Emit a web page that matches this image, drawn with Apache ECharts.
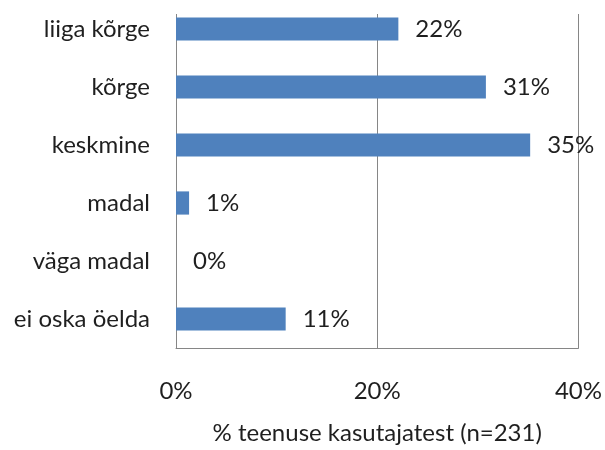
<!DOCTYPE html>
<html>
<head>
<meta charset="utf-8">
<script src="https://cdn.jsdelivr.net/npm/echarts@6/dist/echarts.min.js"></script>
<style>html,body{margin:0;padding:0;background:#fff;}#c{width:605px;height:450px;}</style>
</head>
<body>
<div id="c"></div>
<script>
var categories = ["liiga kõrge", "kõrge", "keskmine", "madal", "väga madal", "ei oska öelda"];
var values = [22.1, 30.8, 35.2, 1.3, 0, 10.9];
var valueLabels = ["22%", "31%", "35%", "1%", "0%", "11%"];
var xTicks = [0, 20, 40];
var axisTitle = "% teenuse kasutajatest (n=231)";

var FONT = "Lato";
var TXT = '#1f1f1f';
var chart = echarts.init(document.getElementById('c'), null, {renderer: 'canvas'});
chart.setOption({
  animation: false,
  backgroundColor: '#ffffff',
  grid: {left: 176, right: 23, top: -4, bottom: 94, containLabel: false},
  xAxis: {
    type: 'value', min: xTicks[0], max: xTicks[xTicks.length - 1], interval: xTicks[1] - xTicks[0],
    axisLine: {show: true, lineStyle: {color: '#868686', width: 1}},
    axisTick: {show: false},
    splitLine: {show: true, lineStyle: {color: '#868686', width: 1}},
    axisLabel: {formatter: '{value}%', color: TXT, fontFamily: FONT, fontSize: 24, margin: 31},
    name: axisTitle, nameLocation: 'middle', nameGap: 73,
    nameTextStyle: {color: TXT, fontFamily: FONT, fontSize: 24}
  },
  yAxis: {
    type: 'category', data: categories, inverse: true,
    axisLine: {show: true, lineStyle: {color: '#868686', width: 1}},
    axisTick: {show: false},
    axisLabel: {color: TXT, fontFamily: FONT, fontSize: 24, margin: 26}
  },
  series: [{
    type: 'bar', data: values, barCategoryGap: '60%',
    itemStyle: {color: '#4F81BD'},
    label: {
      show: true, position: 'right', distance: 17,
      formatter: function (p) { return valueLabels[p.dataIndex]; },
      color: TXT, fontFamily: FONT, fontSize: 24
    }
  }],
  graphic: [{
    type: 'rect', z: 100, silent: true,
    shape: {x: 165, y: 0, width: 440, height: 14},
    style: {fill: '#ffffff'}
  }]
});
</script>
</body>
</html>
